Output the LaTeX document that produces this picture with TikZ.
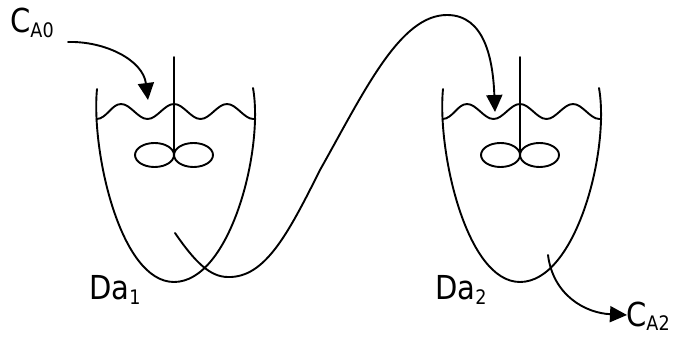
\documentclass[tikz,border=0pt]{standalone}
\usepackage{fontspec}
\setmainfont{DejaVu Sans}[FakeStretch=0.88]
\usetikzlibrary{arrows.meta}
\newcommand{\subtxt}[1]{\raisebox{-5pt}{\fontsize{20}{20}\selectfont #1}}
% open stirred vessel, drawn around its shaft axis at x = 0
\newcommand{\drawvessel}{%
  \draw[line] (-77,89) .. controls (-83,150) and (-54,282) .. (0,282)
                       .. controls (56,282) and (90,150) .. (79,88);
  \draw[line] (-77.5,119) .. controls (-67.5,119) and (-62.5,104) .. (-53,104)
     .. controls (-43.5,104) and (-36,119) .. (-26.5,119)
     .. controls (-17,119) and (-9.5,104) .. (0,104)
     .. controls (9.5,104) and (17,119) .. (26.5,119)
     .. controls (36,119) and (43.5,104) .. (53,104)
     .. controls (62.5,104) and (70,119) .. (79.5,119) -- (81.5,119);
  \draw[line] (0,57) -- (0,153);
  \draw[line] (-19.5,155) ellipse [x radius=19.5, y radius=12];
  \draw[line] (19.5,155) ellipse [x radius=19.5, y radius=12];
}
\begin{document}
\begin{tikzpicture}[x=1pt,y=-1pt,
  line/.style={line width=1.9pt, line cap=round, line join=round},
  flow/.style={line, -{Triangle[length=17pt,width=16pt]}},
  lbl/.style={anchor=base west, inner sep=0pt, font=\fontsize{33}{36}\selectfont},
]
\useasboundingbox (0,0) rectangle (675,339);

\begin{scope}[shift={(174,0)}]
  \drawvessel
\end{scope}
\begin{scope}[shift={(520,0)}]
  \drawvessel
\end{scope}

% labels
\node[lbl] (cA0) at (10,33) {C\subtxt{A0}};
\node[lbl] (da1) at (89,300) {Da\subtxt{1}};
\node[lbl] (da2) at (435,300) {Da\subtxt{2}};
\node[lbl] (cA2) at (626,326) {C\subtxt{A2}};

% stream end points
\coordinate (feed) at (68,42);
\coordinate (in1) at (148,100);
\coordinate (out1) at (175,233);
\coordinate (in2) at (495,112);
\coordinate (out2) at (548,255);
\coordinate (prod) at (627,315);

% feed stream
\draw[flow] (feed) .. controls (105,41) and (143,60) .. (in1);
% transfer line between the vessels
\draw[flow] (out1) .. controls (195,262) and (210,277) .. (228,277)
   .. controls (265,278) and (288,234) .. (320,170)
   .. controls (365,90) and (400,15) .. (447,15)
   .. controls (485,15) and (493,60) .. (in2);
% product stream
\draw[flow] (out2) .. controls (553,295) and (585,313) .. (prod);
\end{tikzpicture}
\end{document}
